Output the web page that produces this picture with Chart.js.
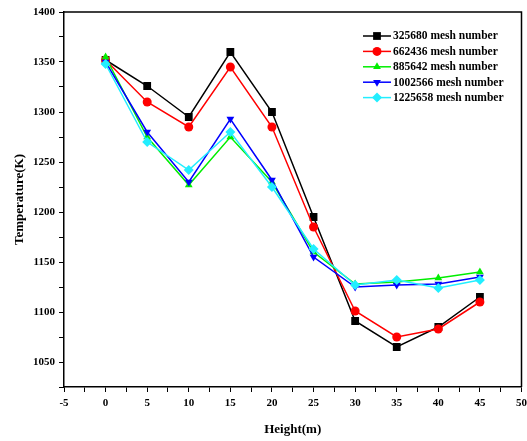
<!DOCTYPE html>
<html>
<head>
<meta charset="utf-8">
<script src="https://cdn.jsdelivr.net/npm/chart.js@4/dist/chart.umd.min.js"></script>
<style>
  html, body { margin: 0; padding: 0; background: #fff; }
  #wrap { width: 527px; height: 441px; }
</style>
</head>
<body>
<div id="wrap"><canvas id="myChart" width="527" height="441"></canvas></div>
<script>
// heights (m) and temperatures (K)
const heights = [0, 5, 10, 15, 20, 25, 30, 35, 40, 45];
const mesh325680 = [1352, 1326, 1295, 1360, 1300, 1195, 1091, 1065, 1085, 1115];
const mesh662436 = [1352, 1310, 1285, 1345, 1285, 1185, 1101, 1075, 1083, 1110];
const mesh885642 = [1355, 1275, 1227, 1275, 1230, 1160, 1128, 1130, 1134, 1140];
const mesh1002566 = [1350, 1280, 1230, 1293, 1232, 1155, 1125, 1127, 1128, 1135];
const mesh1225658 = [1348, 1270, 1242, 1280, 1225, 1163, 1127, 1132, 1124, 1132];
const seriesNames = ['325680 mesh number', '662436 mesh number', '885642 mesh number',
    '1002566 mesh number', '1225658 mesh number'];

const fontFamily = "'Liberation Serif', 'Times New Roman', serif";

function toPoints(values) {
    return heights.map((h, i) => ({ x: h, y: values[i] }));
}

function makeSet(label, values, color, style, rotation, radius, order) {
    return {
        label: label,
        data: toPoints(values),
        borderColor: color,
        backgroundColor: color,
        borderWidth: 1.5,
        pointStyle: style,
        pointRotation: rotation,
        pointRadius: radius,
        pointBorderWidth: 0,
        order: order
    };
}

// frame on top/right plus legend inside the plot
const framePlugin = {
    id: 'frame',
    afterDraw(chart) {
        const ctx = chart.ctx;
        const a = chart.chartArea;
        ctx.save();
        ctx.strokeStyle = '#000';
        ctx.lineWidth = 1.5;
        ctx.beginPath();
        ctx.moveTo(a.left, a.top);
        ctx.lineTo(a.right, a.top);
        ctx.lineTo(a.right, a.bottom);
        ctx.stroke();

        ctx.font = 'bold 11.5px ' + fontFamily;
        ctx.textBaseline = 'middle';
        ctx.textAlign = 'left';
        chart.data.datasets.forEach((ds, i) => {
            const y = 36 + i * 15.4;
            ctx.strokeStyle = ds.borderColor;
            ctx.lineWidth = 1.5;
            ctx.beginPath();
            ctx.moveTo(363, y);
            ctx.lineTo(391, y);
            ctx.stroke();
            ctx.fillStyle = ds.backgroundColor;
            Chart.helpers.drawPoint(ctx, {
                pointStyle: ds.pointStyle,
                rotation: ds.pointRotation,
                radius: ds.pointRadius,
                borderWidth: 0
            }, 377, y);
            ctx.fillStyle = '#000';
            ctx.fillText(ds.label, 393, y + 0.5);
        });
        ctx.restore();
    }
};

const ctx = document.getElementById('myChart');
const myChart = new Chart(ctx, {
    type: 'line',
    data: {
        datasets: [
            makeSet(seriesNames[0], mesh325680, '#000000', 'rect', 0, 5.5, 4),
            makeSet(seriesNames[1], mesh662436, '#ff0000', 'circle', 0, 4.5, 3),
            makeSet(seriesNames[2], mesh885642, '#00ee00', 'triangle', 0, 4.5, 2),
            makeSet(seriesNames[3], mesh1002566, '#0000ff', 'triangle', 180, 4.5, 1),
            makeSet(seriesNames[4], mesh1225658, '#22eeff', 'rectRot', 0, 5, 0)
        ]
    },
    options: {
        responsive: false,
        animation: false,
        layout: { padding: { left: 0, right: 4, top: 12, bottom: 0 } },
        scales: {
            x: {
                type: 'linear',
                min: -5,
                max: 50,
                ticks: {
                    stepSize: 2.5,
                    color: '#000',
                    padding: 5,
                    maxRotation: 0,
                    font: { family: fontFamily, size: 11, weight: 'bold' },
                    callback: v => (v % 5 === 0 ? v : '')
                },
                grid: { drawOnChartArea: false, drawTicks: true, tickLength: 5, color: '#000' },
                border: { color: '#000', width: 1.5 },
                title: {
                    display: true,
                    text: 'Height(m)',
                    color: '#000',
                    padding: { top: 4, bottom: 4 },
                    font: { family: fontFamily, size: 13, weight: 'bold' }
                },
                afterFit: scale => { scale.height = 54; scale.paddingRight = 0; scale.paddingLeft = 0; }
            },
            y: {
                min: 1025,
                max: 1400,
                ticks: {
                    stepSize: 25,
                    color: '#000',
                    padding: 4,
                    font: { family: fontFamily, size: 11, weight: 'bold' },
                    callback: v => (v % 50 === 0 ? v : '')
                },
                grid: { drawOnChartArea: false, drawTicks: true, tickLength: 5, color: '#000' },
                border: { color: '#000', width: 1.5 },
                title: {
                    display: true,
                    text: 'Temperature(K)',
                    color: '#000',
                    padding: { top: 12, bottom: 4 },
                    font: { family: fontFamily, size: 13, weight: 'bold' }
                },
                afterFit: scale => { scale.width = 64; }
            }
        },
        plugins: {
            legend: { display: false },
            tooltip: { enabled: false }
        }
    },
    plugins: [framePlugin]
});
</script>
</body>
</html>
